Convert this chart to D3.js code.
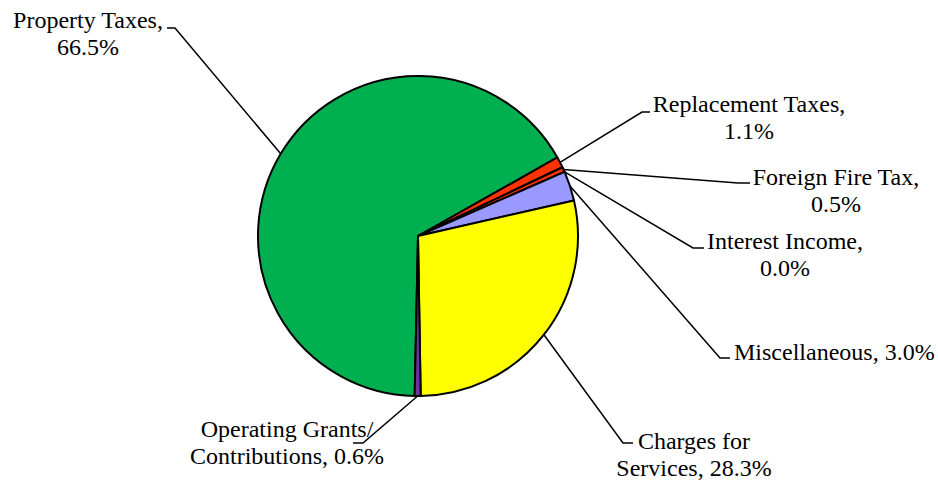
<!DOCTYPE html>
<html>
<head>
<meta charset="utf-8">
<script src="https://cdn.jsdelivr.net/npm/d3@7"></script>
<style>
  html, body { margin: 0; padding: 0; background: #fff; }
  svg { display: block; }
</style>
</head>
<body>
<div id="chart"></div>
<script>
// revenue shares, in drawing order (clockwise)
const categories = ['Property Taxes', 'Replacement Taxes', 'Foreign Fire Tax', 'Interest Income',
  'Miscellaneous', 'Charges for Services', 'Operating Grants/ Contributions'];
const shares = [66.5, 1.1, 0.5, 0.0, 3.0, 28.3, 0.6];
const labelLines = [
  ['Property Taxes,', '66.5%'],
  ['Replacement Taxes,', '1.1%'],
  ['Foreign Fire Tax,', '0.5%'],
  ['Interest Income,', '0.0%'],
  ['Miscellaneous, 3.0%'],
  ['Charges for', 'Services, 28.3%'],
  ['Operating Grants/', 'Contributions, 0.6%']
];

const COLORS = ['#00b050', '#ff3300', '#ff3300', '#993366', '#9999ff', '#ffff00', '#7030a0'];

// label layout: elbow point (ex, ey), tick end (tx), text x/anchor, first baseline
const LABEL_LAYOUT = [
  { ex: 175, ey: 28, tx: 167, x: 88, anchor: 'middle', y: 28 },
  { ex: 642, ey: 112, tx: 650, x: 749, anchor: 'middle', y: 112 },
  { ex: 738, ey: 183, tx: 750, x: 836, anchor: 'middle', y: 185 },
  { ex: 693, ey: 248, tx: 704, x: 785, anchor: 'middle', y: 249 },
  { ex: 720, ey: 358, tx: 730, x: 734, anchor: 'start', y: 360 },
  { ex: 623, ey: 443, tx: 633, x: 694, anchor: 'middle', y: 449 },
  { ex: 363, ey: 443, tx: 353, x: 287, anchor: 'middle', y: 437 }
];

const W = 938, H = 481;
const cx = 418, cy = 236, r = 160;
const lineH = 26.5;
const FONT = '"Liberation Serif", "Times New Roman", serif';

const data = categories.map((c, i) => ({ key: c, value: shares[i], color: COLORS[i], lines: labelLines[i], pos: LABEL_LAYOUT[i] }));

const svg = d3.select('#chart').append('svg').attr('width', W).attr('height', H);
svg.append('rect').attr('width', W).attr('height', H).attr('fill', '#fff');

const start = 181.2 * Math.PI / 180;
const pie = d3.pie().value((d) => d.value).sort(null).startAngle(start).endAngle(start + 2 * Math.PI);
const arc = d3.arc().innerRadius(0).outerRadius(r);
const edge = d3.arc().innerRadius(r).outerRadius(r);

const g = svg.append('g').attr('transform', `translate(${cx},${cy})`);
const arcs = pie(data);

g.selectAll('path')
  .data(arcs)
  .join('path')
  .attr('d', arc)
  .attr('fill', (d) => d.data.color)
  .attr('stroke', '#000')
  .attr('stroke-width', 2)
  .attr('stroke-linejoin', 'round');

// leader lines
arcs.forEach((d) => {
  const [px, py] = edge.centroid(d);
  const p = d.data.pos;
  svg.append('polyline')
    .attr('points', `${cx + px},${cy + py} ${p.ex},${p.ey} ${p.tx},${p.ey}`)
    .attr('fill', 'none')
    .attr('stroke', '#000')
    .attr('stroke-width', 1.5);
});

// labels
data.forEach((d) => {
  const t = svg.append('text')
    .attr('x', d.pos.x)
    .attr('y', d.pos.y)
    .attr('text-anchor', d.pos.anchor)
    .attr('font-family', FONT)
    .attr('font-size', 24)
    .attr('fill', '#000');
  d.lines.forEach((ln, i) => {
    t.append('tspan').attr('x', d.pos.x).attr('y', d.pos.y + i * lineH).text(ln);
  });
});
</script>
</body>
</html>
